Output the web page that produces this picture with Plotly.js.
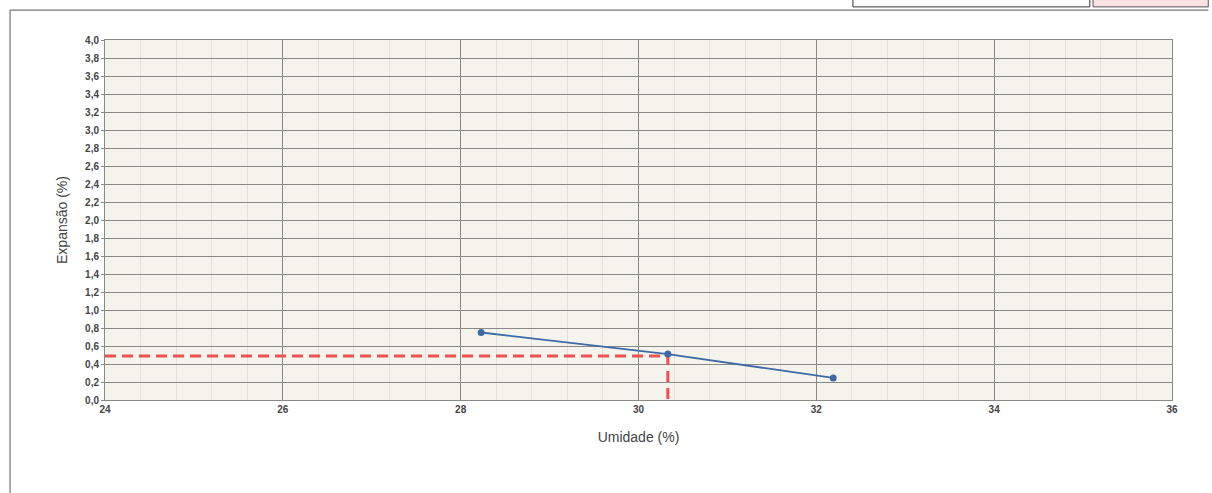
<!DOCTYPE html>
<html>
<head>
<meta charset="utf-8">
<script src="https://cdn.plot.ly/plotly-3.0.1.min.js"></script>
<style>
html,body{margin:0;padding:0;background:#fff;}
#chart{width:1212px;height:493px;}
</style>
</head>
<body>
<div id="chart"></div>
<script>
// Data
const umidade = [28.23, 30.33, 32.19];
const expansao = [0.75, 0.51, 0.245];
// Interpolated reading (red dashed guide)
const refUmidade = 30.33;
const refExpansao = 0.49;
const xRange = [24, 36];
const yRange = [0, 4];

const traces = [
  {
    x: [xRange[0], refUmidade, refUmidade],
    y: [refExpansao, refExpansao, yRange[0] - 0.05],
    mode: 'lines',
    line: {color: '#f0504f', width: 3, dash: '11px,6px'},
    hoverinfo: 'skip',
    cliponaxis: false,
    showlegend: false
  },
  {
    x: umidade,
    y: expansao,
    mode: 'lines+markers',
    line: {color: '#3d6aa6', width: 1.8},
    marker: {color: '#3d6aa6', size: 7},
    showlegend: false
  }
];

const layout = {
  width: 1212,
  height: 493,
  margin: {l: 105, r: 40, t: 40, b: 93},
  paper_bgcolor: '#ffffff',
  plot_bgcolor: '#f4f3ec',
  separators: ',.',
  font: {family: 'Liberation Sans, Arial, sans-serif', color: '#444'},
  xaxis: {
    range: xRange,
    tickvals: [24, 26, 28, 30, 32, 34, 36],
    ticktext: ['24', '26', '28', '30', '32', '34', '36'],
    tickfont: {size: 10, color: '#444', weight: 'bold'},
    showgrid: true,
    gridcolor: '#8a8a84',
    gridwidth: 1,
    minor: {dtick: 0.4, showgrid: true, gridcolor: '#e3e2da', gridwidth: 1},
    zeroline: false,
    showline: true,
    mirror: true,
    linecolor: '#8a8a84',
    ticks: '',
    ticklen: 0,
    title: {text: 'Umidade (%)', font: {size: 14, color: '#444'}, standoff: 18}
  },
  yaxis: {
    range: yRange,
    dtick: 0.2,
    tickformat: '.1f',
    tickfont: {size: 10, color: '#444', weight: 'bold'},
    showgrid: true,
    gridcolor: '#8a8a84',
    gridwidth: 1,
    zeroline: false,
    showline: true,
    mirror: true,
    linecolor: '#8a8a84',
    ticks: 'outside',
    ticklen: 3,
    tickcolor: '#8a8a84',
    title: {text: 'Expansão (%)', font: {size: 14, color: '#444'}, standoff: 14}
  },
  shapes: [
    // outer frame (top and left edges of the scanned sheet)
    {type: 'line', xref: 'paper', yref: 'paper', x0: -0.089, x1: 1.034, y0: 1.083, y1: 1.083,
     line: {color: '#777', width: 1.2}},
    {type: 'line', xref: 'paper', yref: 'paper', x0: -0.089, x1: -0.089, y0: 1.083, y1: -0.26,
     line: {color: '#777', width: 1.2}},
    // cut-off table at top right
    {type: 'rect', xref: 'paper', yref: 'paper', x0: 0.701, x1: 0.923, y0: 1.092, y1: 1.12,
     line: {color: '#333', width: 1}, fillcolor: '#ffffff'},
    {type: 'rect', xref: 'paper', yref: 'paper', x0: 0.926, x1: 1.034, y0: 1.092, y1: 1.12,
     line: {color: '#555', width: 1}, fillcolor: '#fbe3e3'}
  ]
};

Plotly.newPlot('chart', traces, layout, {displayModeBar: false, staticPlot: true});
</script>
</body>
</html>
